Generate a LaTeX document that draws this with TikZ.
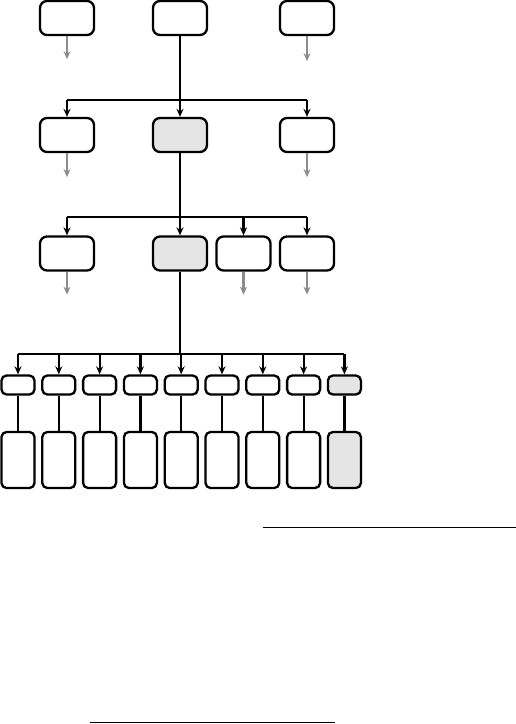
\documentclass[tikz,border=0pt]{standalone}
\usepackage{xcolor}
\definecolor{boxgrey}{RGB}{229, 229, 229}
\definecolor{leafgrey}{RGB}{140, 140, 140}
\usetikzlibrary{arrows.meta}

\begin{document}
\begin{tikzpicture}[x=1pt, y=-1pt,
    box/.style={draw, line width=2.3pt, rounded corners=7pt, minimum width=54pt, minimum height=34pt, inner sep=0pt},
    smallbox/.style={draw, line width=2.3pt, rounded corners=5pt, minimum width=33pt, minimum height=19pt, inner sep=0pt},
    tallbox/.style={draw, line width=2.3pt, rounded corners=5pt, minimum width=33pt, minimum height=56pt, inner sep=0pt},
    hot/.style={fill=boxgrey},
    link/.style={line width=2.2pt},
    feed/.style={line width=2.2pt, -{Stealth[length=8pt, width=7pt]}},
    leafarrow/.style={line width=2.2pt, leafgrey, -{Stealth[length=8pt, width=7pt]}}]
        \useasboundingbox (0,0) rectangle (516,724);

        % Row 1
        \node[box] (a1) at (67,18) {};
        \node[box] (a2) at (180,18) {};
        \node[box] (a3) at (307,18) {};

        % Row 2
        \node[box] (b1) at (67,135) {};
        \node[box, hot] (b2) at (180,135) {};
        \node[box] (b3) at (307,135) {};

        % Row 3
        \node[box] (c1) at (67,253.5) {};
        \node[box, hot] (c2) at (180,253.5) {};
        \node[box] (c3) at (243.5,253.5) {};
        \node[box] (c4) at (307,253.5) {};

        % Rows 4 and 5
        \foreach \i in {1,...,9} {
            \pgfmathsetmacro{\xx}{18+40.8*(\i-1)}
            \ifnum\i=9
                \node[smallbox, hot] (d\i) at (\xx,385) {};
                \node[tallbox, hot] (e\i) at (\xx,460) {};
            \else
                \node[smallbox] (d\i) at (\xx,385) {};
                \node[tallbox] (e\i) at (\xx,460) {};
            \fi
            \draw[link] (d\i) -- (e\i);
        }

        % Junctions
        \coordinate (j1) at (180,100);
        \coordinate (j2) at (180,217);
        \coordinate (j3) at (180,354);

        % Tree a -> b
        \draw[link] (a2) -- (j1);
        \draw[link] (j1 -| b1) -- (j1 -| b3);
        \foreach \n in {b1,b2,b3}
            \draw[feed] (j1 -| \n) -- (\n);

        % Tree b -> c
        \draw[link] (b2) -- (j2);
        \draw[link] (j2 -| c1) -- (j2 -| c4);
        \foreach \n in {c1,c2,c3,c4}
            \draw[feed] (j2 -| \n) -- (\n);

        % Tree c -> d
        \draw[link] (c2) -- (j3);
        \draw[link] (j3 -| d1) -- (j3 -| d9);
        \foreach \i in {1,...,9}
            \draw[feed] (j3 -| d\i) -- (d\i);

        % Grey outputs
        \foreach \n/\len in {a1/23, a3/25, b1/24, b3/24, c1/23, c3/23, c4/23} {
            \coordinate (\n o) at ([yshift=-\len pt]\n.south);
            \draw[leafarrow] (\n.south) -- (\n o);
        }

        % Rules
        \coordinate (r1) at (263,527);
        \coordinate (r2) at (516,527);
        \coordinate (r3) at (90,722);
        \coordinate (r4) at (335,722);
        \draw[line width=1pt] (r1) -- (r2);
        \draw[line width=1pt] (r3) -- (r4);
    \end{tikzpicture}
\end{document}
